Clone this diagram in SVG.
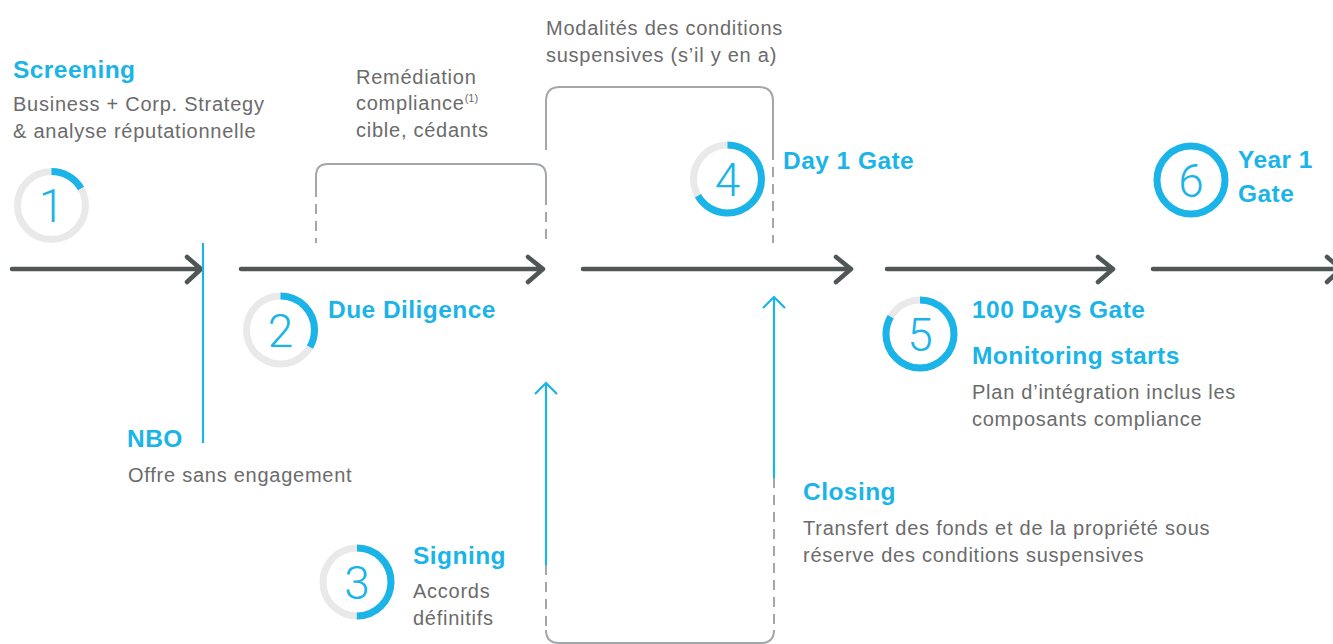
<svg xmlns="http://www.w3.org/2000/svg" width="1333" height="644" viewBox="0 0 1333 644">
<style>
.bg{fill:#ffffff}
.h{font-family:"Liberation Sans",Arial,sans-serif;font-weight:bold;font-size:24.5px;letter-spacing:0.45px;fill:#1ab4e8}
.t{font-family:"Liberation Sans",Arial,sans-serif;font-size:20px;letter-spacing:0.75px;fill:#6b6b6b}
.num{font-family:Roboto,"Liberation Sans",sans-serif;font-weight:300;font-size:46px;fill:#1ab4e8;text-anchor:middle}
.ring{fill:none;stroke:#e9e9e9;stroke-width:7}
.arc{fill:none;stroke:#1ab4e8;stroke-width:7}
.main{fill:none;stroke:#505656;stroke-width:4.5;stroke-linecap:round;stroke-linejoin:round}
.blue{fill:none;stroke:#1ab4e8;stroke-width:2.2;stroke-linecap:butt}
.gs{fill:none;stroke:#a3a7ab;stroke-width:2}
.gd{fill:none;stroke:#a3a7ab;stroke-width:2;stroke-dasharray:10 7}
</style>
<rect class="bg" x="0" y="0" width="1333" height="644"/>

<g id="connectors">
  <!-- main timeline arrows -->
  <path class="main" d="M12,269 H201 M187,257 L201,269 L187,282"/>
  <path class="main" d="M241,269 H543 M528,257 L543,269 L528,282"/>
  <path class="main" d="M583,269 H851 M836,257 L851,269 L836,282"/>
  <path class="main" d="M887,269 H1113 M1098,257 L1113,269 L1098,282"/>
  <path class="main" d="M1153,269 H1341 M1327,257 L1341,269 L1327,282"/>
  <!-- NBO marker -->
  <path class="blue" d="M203,243 V443"/>
  <!-- bracket over Due Diligence -->
  <path class="gs" d="M316,187 V176 Q316,164 328,164 H534 Q546,164 546,176 V195"/>
  <path class="gd" d="M316,187 V243"/>
  <!-- bracket over conditions suspensives -->
  <path class="gs" d="M546,150 V101 Q546,87 560,87 H759 Q773,87 773,101 V150"/>
  <path class="gd" d="M546,195 V243"/>
  <path class="gd" d="M773,150 V243"/>
  <!-- Signing arrow -->
  <path class="blue" d="M546,565 V383 M535,394 L546,383 L557,394"/>
  <!-- Closing arrow -->
  <path class="blue" d="M774,478 V297 M763,308 L774,297 L785,308"/>
  <!-- lower box -->
  <path class="gd" d="M546,565 V630"/>
  <path class="gd" d="M774,478 V630"/>
  <path class="gs" d="M546,630 Q546,643 559,643 H761 Q774,643 774,630"/>
</g>

<g id="node-screening">
  <circle class="ring" cx="51.5" cy="205.5" r="34"/>
  <circle class="arc" cx="51.5" cy="205.5" r="34" stroke-dasharray="35.6 300" transform="rotate(-90 51.5 205.5)"/>
  <text class="num" x="51.5" y="222">1</text>
  <text class="h" x="13" y="78">Screening</text>
  <text class="t" x="13" y="111">Business + Corp. Strategy</text>
  <text class="t" x="13" y="138">&amp; analyse réputationnelle</text>
</g>

<g id="node-nbo">
  <text class="h" x="127" y="447">NBO</text>
  <text class="t" x="128" y="482">Offre sans engagement</text>
</g>

<g id="node-due-diligence">
  <circle class="ring" cx="280.5" cy="330" r="34"/>
  <circle class="arc" cx="280.5" cy="330" r="34" stroke-dasharray="71.2 300" transform="rotate(-90 280.5 330)"/>
  <text class="num" x="280.5" y="346.5">2</text>
  <text class="h" x="328" y="318">Due Diligence</text>
</g>

<g id="node-remediation">
  <text class="t" x="356" y="84">Remédiation</text>
  <text class="t" x="356" y="110">compliance<tspan font-size="11px" letter-spacing="0" dy="-8">(1)</tspan></text>
  <text class="t" x="356" y="137">cible, cédants</text>
</g>

<g id="node-signing">
  <circle class="ring" cx="357" cy="582" r="34"/>
  <circle class="arc" cx="357" cy="582" r="34" stroke-dasharray="106.8 300" transform="rotate(-90 357 582)"/>
  <text class="num" x="357" y="598.5">3</text>
  <text class="h" x="413" y="564">Signing</text>
  <text class="t" x="413" y="598">Accords</text>
  <text class="t" x="413" y="625">définitifs</text>
</g>

<g id="node-conditions">
  <text class="t" x="546" y="35">Modalités des conditions</text>
  <text class="t" x="546" y="62">suspensives (s’il y en a)</text>
</g>

<g id="node-day1">
  <circle class="ring" cx="727.5" cy="179" r="34"/>
  <circle class="arc" cx="727.5" cy="179" r="34" stroke-dasharray="142.4 300" transform="rotate(-90 727.5 179)"/>
  <text class="num" x="727.5" y="195.5">4</text>
  <text class="h" x="783" y="169">Day 1 Gate</text>
</g>

<g id="node-closing">
  <text class="h" x="803" y="500">Closing</text>
  <text class="t" x="803" y="535">Transfert des fonds et de la propriété sous</text>
  <text class="t" x="803" y="562">réserve des conditions suspensives</text>
</g>

<g id="node-100days">
  <circle class="ring" cx="920" cy="334" r="34"/>
  <circle class="arc" cx="920" cy="334" r="34" stroke-dasharray="178 300" transform="rotate(-90 920 334)"/>
  <text class="num" x="920" y="350.5">5</text>
  <text class="h" x="972" y="318">100 Days Gate</text>
  <text class="h" x="972" y="364">Monitoring starts</text>
  <text class="t" x="972" y="399">Plan d’intégration inclus les</text>
  <text class="t" x="972" y="426">composants compliance</text>
</g>

<g id="node-year1">
  <circle class="arc" cx="1191" cy="180" r="34"/>
  <text class="num" x="1191" y="196.5">6</text>
  <text class="h" x="1238" y="168">Year 1</text>
  <text class="h" x="1238" y="202">Gate</text>
</g>
</svg>
